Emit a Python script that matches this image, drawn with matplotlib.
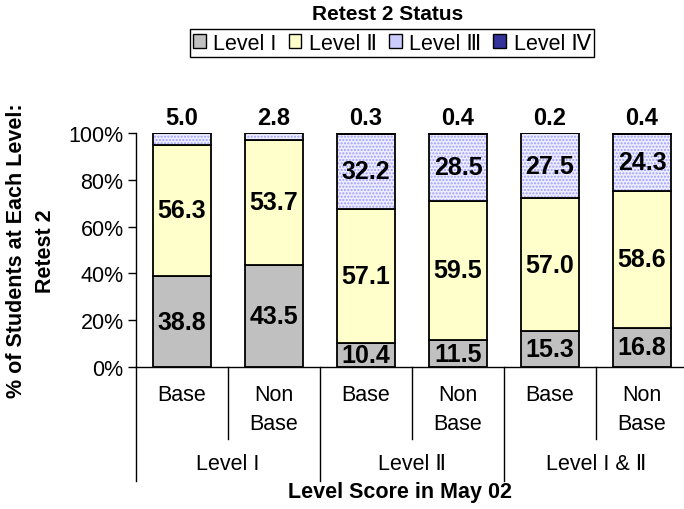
import numpy as np
import matplotlib
matplotlib.use('Agg')
import matplotlib.pyplot as plt
from matplotlib.patches import Patch

plt.rcParams['font.family'] = ['Liberation Sans', 'DejaVu Sans']

# data (percent of students)
sub_labels = ['Base', 'Non\nBase', 'Base', 'Non\nBase', 'Base', 'Non\nBase']
group_labels = ['Level I', 'Level Ⅱ', 'Level I & Ⅱ']
series_names = ['Level I', 'Level Ⅱ', 'Level Ⅲ', 'Level Ⅳ']
lev1 = [38.8, 43.5, 10.4, 11.5, 15.3, 16.8]
lev2 = [56.3, 53.7, 57.1, 59.5, 57.0, 58.6]
lev3 = [5.0, 2.8, 32.2, 28.5, 27.5, 24.3]
lev4 = [0.0, 0.0, 0.3, 0.4, 0.2, 0.4]

c1 = '#C0C0C0'
c2 = '#FFFFCC'
c3dot = '#9C9CFF'
c4 = '#333399'

fig = plt.figure(figsize=(6.84, 5.10), dpi=100)
W, H = 684., 510.
ax = fig.add_axes([136/W, (H-368)/H, (688-136)/W, (368-134)/H])

x = np.arange(len(lev1))
tot = np.array(lev1) + np.array(lev2) + np.array(lev3) + np.array(lev4)
p1 = np.array(lev1) / tot * 100
p2 = np.array(lev2) / tot * 100
p3 = np.array(lev3) / tot * 100
p4 = np.array(lev4) / tot * 100
bw = 0.63
lw = 1.3
fs = 15.5

ax.bar(x, p1, bw, color=c1, edgecolor='black', linewidth=lw, zorder=2)
ax.bar(x, p2, bw, bottom=p1, color=c2, edgecolor='black', linewidth=lw, zorder=2)
# dotted fill for level III: hatch first, then outline on top
ax.bar(x, p3, bw, bottom=p1+p2, color='#EEEEFF', edgecolor=c3dot, hatch='.....',
       linewidth=0, zorder=2)
ax.bar(x, p3, bw, bottom=p1+p2, fill=False, edgecolor='black', linewidth=lw, zorder=3)
ax.bar(x, p4, bw, bottom=p1+p2+p3, color=c4, edgecolor='black', linewidth=lw, zorder=3)

lab = dict(ha='center', va='center', fontsize=18, fontweight='bold', zorder=5)
for i in range(len(x)):
    ax.text(x[i], p1[i]/2, '%.1f' % lev1[i], **lab)
    ax.text(x[i], p1[i] + p2[i]/2, '%.1f' % lev2[i], **lab)
    if lev4[i] > 0:
        ax.text(x[i], p1[i] + p2[i] + p3[i]/2, '%.1f' % lev3[i], **lab)
        top = lev4[i]
    else:
        top = lev3[i]
    ax.text(x[i], 101.5, '%.1f' % top, ha='center', va='bottom',
            fontsize=17, fontweight='bold')

ax.set_xlim(-0.5, 5.5)
ax.set_ylim(0, 100)
ax.set_yticks([0, 20, 40, 60, 80, 100])
ax.set_yticklabels(['0%', '20%', '40%', '60%', '80%', '100%'])
ax.tick_params(axis='y', direction='out', length=6, width=1, labelsize=fs, pad=3)
ax.set_xticks(x)
ax.set_xticklabels(sub_labels, linespacing=1.5)
ax.tick_params(axis='x', length=0, labelsize=fs, pad=12)
for s in ['top', 'right']:
    ax.spines[s].set_visible(False)
ax.spines['bottom'].set_linewidth(1)
ax.spines['left'].set_linewidth(1)

# category separators under the axis
tr = ax.get_xaxis_transform()
for b in [0.5, 2.5, 4.5]:
    ax.plot([b, b], [0, -0.308], color='black', lw=1, transform=tr, clip_on=False)
for b in [-0.5, 1.5, 3.5, 5.5]:
    ax.plot([b, b], [0, -0.487], color='black', lw=1, transform=tr, clip_on=False)
for g, name in enumerate(group_labels):
    ax.text(2*g + 0.5, -0.4145, name, transform=tr, ha='center', va='center',
            fontsize=fs)

fig.text(400/W, (H-493)/H, 'Level Score in May 02', ha='center', va='center',
         fontsize=15.5, fontweight='bold')
fig.text(31/W, (H-251)/H, '% of Students at Each Level:\nRetest 2', rotation=90,
         ha='center', va='center', fontsize=15.5, fontweight='bold', linespacing=1.5)

fig.text(388/W, (H-15)/H, 'Retest 2 Status', ha='center', va='center',
         fontsize=15, fontweight='bold')
handles = [Patch(facecolor=c1, edgecolor='black'),
           Patch(facecolor=c2, edgecolor='black'),
           Patch(facecolor='#CCCCFF', edgecolor='black'),
           Patch(facecolor=c4, edgecolor='black')]
leg = fig.legend(handles, series_names, ncol=4, loc='center',
                 bbox_to_anchor=(392/W, (H-44)/H), fontsize=fs,
                 handlelength=0.6, handleheight=0.6, handletextpad=0.35,
                 columnspacing=0.55, borderpad=0.15, borderaxespad=0,
                 fancybox=False, edgecolor='black', framealpha=1)
leg.get_frame().set_linewidth(1)

fig.savefig('out.png', dpi=100)
